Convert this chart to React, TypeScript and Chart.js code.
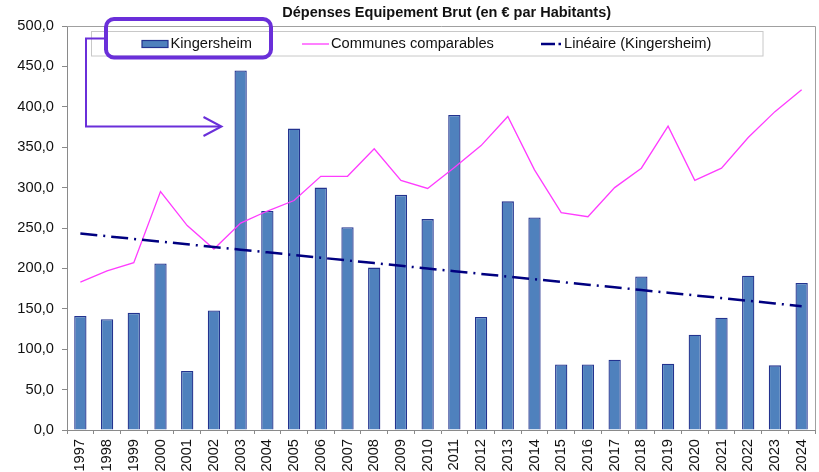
import React, { useEffect, useRef } from "react";
import { Chart, registerables } from "chart.js";

Chart.register(...registerables);

const years: string[] = [
  "1997", "1998", "1999", "2000", "2001", "2002", "2003", "2004", "2005", "2006",
  "2007", "2008", "2009", "2010", "2011", "2012", "2013", "2014", "2015", "2016",
  "2017", "2018", "2019", "2020", "2021", "2022", "2023", "2024",
];

const kingersheim: number[] = [
  141, 137, 145, 206, 73, 148, 445, 271, 373, 300,
  251, 201, 291, 261, 390, 140, 283, 263, 81, 81,
  87, 190, 82, 118, 139, 191, 80, 182,
];

const communesComparables: number[] = [
  183, 197, 207, 295, 253, 224, 256, 271, 284, 314,
  314, 348, 309, 299, 325, 352, 388, 322, 269, 264,
  300, 324, 376, 309, 324, 362, 394, 421,
];

const yTicks: number[] = [0, 50, 100, 150, 200, 250, 300, 350, 400, 450, 500];

const TITLE = "Dépenses Equipement Brut (en € par Habitants)";
const LEG_BAR = "Kingersheim";
const LEG_LINE = "Communes comparables";
const LEG_TREND = "Linéaire (Kingersheim)";

// Linear trend (least squares) of the Kingersheim series, as Excel's "Linéaire"
function linearTrend(values: number[]): number[] {
  const n = values.length;
  let sx = 0, sy = 0, sxy = 0, sxx = 0;
  values.forEach((v, i) => { sx += i; sy += v; sxy += i * v; sxx += i * i; });
  const slope = (n * sxy - sx * sy) / (n * sxx - sx * sx);
  const icpt = (sy - slope * sx) / n;
  return values.map((_, i) => icpt + slope * i);
}

const FONT = '"Liberation Sans", Arial, Helvetica, sans-serif';
const FS = 14.67;
const BAR_FILL = "#4F81BD";
const BAR_BORDER = "#23338f";
const PINK = "#FF3CFF";
const NAVY = "#000080";
const PURPLE = "#6a2fd9";

const overlayPlugin = {
  id: "overlay",
  afterDraw(chart: any) {
    const ctx = chart.ctx as CanvasRenderingContext2D;
    const ca = chart.chartArea;
    ctx.save();
    // plot area top/right border
    ctx.strokeStyle = "#a0a0a0";
    ctx.lineWidth = 1;
    ctx.beginPath();
    ctx.moveTo(ca.left, Math.round(ca.top) + 0.5);
    ctx.lineTo(Math.round(ca.right) + 0.5, Math.round(ca.top) + 0.5);
    ctx.lineTo(Math.round(ca.right) + 0.5, ca.bottom);
    ctx.stroke();

    // title
    ctx.fillStyle = "#111";
    ctx.font = `bold 14.5px ${FONT}`;
    ctx.textAlign = "center";
    ctx.textBaseline = "middle";
    ctx.fillText(TITLE, 446.7, 12.5);

    // legend box
    ctx.fillStyle = "#ffffff";
    ctx.fillRect(91.5, 31.5, 671.5, 24.5);
    ctx.strokeStyle = "#c8c8c8";
    ctx.lineWidth = 1;
    ctx.strokeRect(91.5, 31.5, 671.5, 24.5);

    const ly = 44;
    // bar swatch
    ctx.fillStyle = BAR_FILL;
    ctx.fillRect(142, 40.5, 26, 7);
    ctx.strokeStyle = BAR_BORDER;
    ctx.lineWidth = 1.2;
    ctx.strokeRect(142, 40.5, 26, 7);
    // line swatch
    ctx.strokeStyle = PINK;
    ctx.lineWidth = 1.3;
    ctx.beginPath();
    ctx.moveTo(302, ly);
    ctx.lineTo(329, ly);
    ctx.stroke();
    // trend swatch
    ctx.strokeStyle = NAVY;
    ctx.lineWidth = 2.5;
    ctx.beginPath();
    ctx.moveTo(541, ly);
    ctx.lineTo(555, ly);
    ctx.moveTo(558.5, ly);
    ctx.lineTo(561, ly);
    ctx.stroke();

    ctx.fillStyle = "#111";
    ctx.font = `${FS}px ${FONT}`;
    ctx.textAlign = "left";
    ctx.textBaseline = "middle";
    ctx.fillText(LEG_BAR, 170.5, ly);
    ctx.fillText(LEG_LINE, 331, ly);
    ctx.fillText(LEG_TREND, 564, ly);

    // purple annotation
    ctx.strokeStyle = PURPLE;
    ctx.lineWidth = 4;
    ctx.beginPath();
    (ctx as any).roundRect(106, 19, 165, 38.5, 8);
    ctx.stroke();

    ctx.lineWidth = 2;
    ctx.lineJoin = "miter";
    ctx.beginPath();
    ctx.moveTo(105, 38.5);
    ctx.lineTo(86, 38.5);
    ctx.lineTo(86, 126.5);
    ctx.lineTo(221, 126.5);
    ctx.stroke();
    ctx.beginPath();
    ctx.moveTo(203.5, 117);
    ctx.lineTo(221.5, 126.5);
    ctx.lineTo(203.5, 136);
    ctx.stroke();
    ctx.restore();
  },
};

export default function App() {
  const canvasRef = useRef<HTMLCanvasElement | null>(null);

  useEffect(() => {
    document.body.style.margin = "0";
    const canvas = canvasRef.current;
    if (!canvas) return;
    Chart.defaults.font.family = FONT;
    const trend = linearTrend(kingersheim);

    const chart = new Chart(canvas, {
      type: "bar",
      data: {
        labels: years,
        datasets: [
          {
            type: "line",
            label: LEG_TREND,
            data: trend,
            borderColor: NAVY,
            borderWidth: 2.5,
            borderDash: [17, 6, 2, 6],
            pointRadius: 0,
            fill: false,
            order: 0,
          } as any,
          {
            type: "line",
            label: LEG_LINE,
            data: communesComparables,
            borderColor: PINK,
            borderWidth: 1.3,
            pointRadius: 0,
            tension: 0,
            fill: false,
            order: 1,
          } as any,
          {
            type: "bar",
            label: LEG_BAR,
            data: kingersheim,
            backgroundColor: BAR_FILL,
            borderColor: BAR_BORDER,
            borderWidth: 1.3,
            barPercentage: 0.46,
            categoryPercentage: 1,
            order: 2,
          } as any,
        ],
      },
      options: {
        animation: false,
        responsive: false,
        maintainAspectRatio: false,
        devicePixelRatio: 1,
        layout: { padding: { top: 26, right: 4, left: 0, bottom: 0 } },
        plugins: {
          legend: { display: false },
          title: { display: false },
          tooltip: { enabled: false },
        },
        scales: {
          x: {
            offset: true,
            grid: {
              display: true,
              offset: true,
              drawOnChartArea: false,
              drawTicks: true,
              tickLength: 4,
              color: "#8a8a8a",
            },
            border: { display: true, color: "#8a8a8a", width: 1 },
            ticks: {
              autoSkip: false,
              minRotation: 90,
              maxRotation: 90,
              padding: 5,
              color: "#111",
              font: { size: FS, family: FONT },
            },
            afterFit(scale: any) {
              scale.height = 42;
              scale.paddingLeft = 0;
              scale.paddingRight = 0;
            },
          },
          y: {
            min: 0,
            max: 500,
            afterBuildTicks(scale: any) {
              scale.ticks = yTicks.map((v) => ({ value: v }));
            },
            grid: {
              display: true,
              drawOnChartArea: false,
              drawTicks: true,
              tickLength: 5,
              color: "#8a8a8a",
            },
            border: { display: true, color: "#8a8a8a", width: 1 },
            ticks: {
              padding: 8,
              color: "#111",
              font: { size: FS, family: FONT },
              callback: (v: any) => Number(v).toFixed(1).replace(".", ","),
            },
            afterFit(scale: any) {
              scale.width = 67;
              scale.paddingTop = 0;
              scale.paddingBottom = 0;
            },
          },
        },
      },
      plugins: [overlayPlugin],
    });

    return () => chart.destroy();
  }, []);

  return (
    <div style={{ width: 819, height: 472, position: "relative", background: "#fff" }}>
      <canvas ref={canvasRef} width={819} height={472} style={{ width: 819, height: 472, display: "block" }} />
    </div>
  );
}
